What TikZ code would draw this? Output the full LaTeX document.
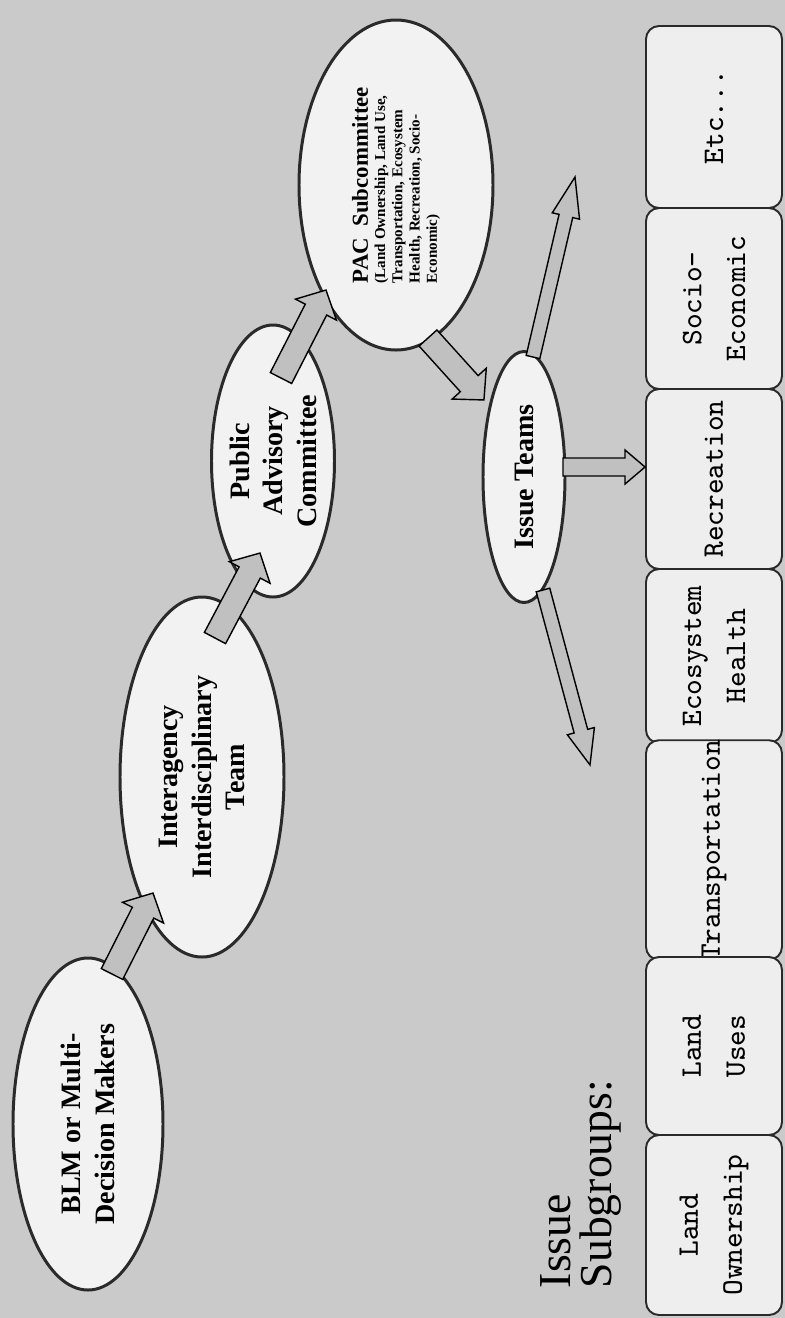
\documentclass[tikz,border=0pt]{standalone}
\usepackage{fontspec}
\setmainfont{Liberation Serif}
\usetikzlibrary{shapes.geometric, calc}
\definecolor{cpage}{HTML}{CACACA}
\definecolor{cbubble}{HTML}{F2F2F2}
\definecolor{cbox}{HTML}{EEEEEE}
\definecolor{carrow}{HTML}{C0C0C0}
\definecolor{cink}{HTML}{2A2A2A}
\tikzset{
  bubble/.style={ellipse, draw=cink, fill=cbubble, line width=0.85pt, rotate=90, inner sep=0pt,
    align=center, font=\fontsize{8}{9.5}\selectfont\bfseries},
  subbox/.style={draw=cink, fill=cbox, line width=0.55pt, rounded corners=0.13cm, rotate=90,
    inner sep=0pt, minimum height=1.36cm, align=center, font=\fontsize{8.5}{12.5}\selectfont\ttfamily},
  fatarrow/.style={draw=black, fill=carrow, line width=0.4pt, line join=miter},
  heading/.style={rotate=90, align=left, font=\rmfamily\fontsize{13}{11.5}\selectfont},
}
% block arrow: from, to, shaft half width, head half width, head length
\newcommand{\blockarrow}[5]{%
  \draw[fatarrow] let \p1=#1, \p2=#2,
      \n1={atan2(\y2-\y1,\x2-\x1)}, \n2={veclen(\x2-\x1,\y2-\y1)} in
    [shift={(\p1)}, rotate=\n1]
    (0,-#3) -- ({\n2*1pt-#5},-#3) -- ({\n2*1pt-#5},-#4) -- ({\n2*1pt},0)
    -- ({\n2*1pt-#5},#4) -- ({\n2*1pt-#5},#3) -- (0,#3) -- cycle;
}

\begin{document}
\begin{tikzpicture}
  \fill[cpage] (0,0) rectangle (7.85,-13.18);
  \useasboundingbox (0,0) rectangle (7.85,-13.18);
  % committees
  \node[bubble, minimum width=3.32cm, minimum height=1.50cm] (blm) at (0.88,-11.24) {BLM or Multi-\\Decision Makers};
  \node[bubble, minimum width=3.60cm, minimum height=1.64cm] (team) at (2.02,-7.77) {Interagency\\Interdisciplinary\\Team};
  \node[bubble, minimum width=2.72cm, minimum height=1.23cm] (pac) at (2.73,-4.61) {Public\\Advisory\\Committee};
  \node[bubble, minimum width=3.30cm, minimum height=1.94cm, align=left,
    font=\fontsize{4.3}{4.9}\selectfont\bfseries] (pacsub) at (3.96,-1.85)
    {{\fontsize{6.5}{7}\selectfont PAC\enspace Subcommittee}\\(Land Ownership, Land Use,\\Transportation, Ecosystem\\Health, Recreation, Socio-\\Economic)};
  \node[bubble, minimum width=2.51cm, minimum height=0.82cm] (issue) at (5.24,-4.77) {Issue Teams};
  % subgroups
  \node[heading] (subgroups) at (5.81,-11.84) {Issue\\Subgroups:};
  \foreach \name/\yc/\len/\txt in {etc/1.17/1.82/{Etc...}, soc/2.985/1.81/{Socio-\\Economic},
      rec/4.79/1.80/{Recreation}, eco/6.56/1.74/{Ecosystem\\Health}, trans/8.50/2.14/{Transportation},
      luse/10.46/1.78/{Land\\Uses}, lown/12.25/1.80/{Land\\Ownership}}
    \node[subbox, minimum width=\len cm] (\name) at (7.14,-\yc) {\txt};
  \coordinate (upend) at (5.75,-1.77);
  \coordinate (downend) at (5.90,-7.65);
  % arrows
  \blockarrow{($(blm)+(0.24,1.50)$)}{($(team)+(-0.49,-1.16)$)}{0.12cm}{0.23cm}{0.22cm}
  \blockarrow{($(team)+(0.13,1.39)$)}{($(pac)+(-0.13,-0.92)$)}{0.12cm}{0.23cm}{0.22cm}
  \blockarrow{($(pac)+(0.08,0.83)$)}{($(pacsub)+(-0.70,-1.05)$)}{0.12cm}{0.23cm}{0.22cm}
  \blockarrow{($(pacsub)+(0.32,-1.53)$)}{($(issue)+(-0.40,0.77)$)}{0.12cm}{0.23cm}{0.22cm}
  \blockarrow{($(issue)+(0.39,0.10)$)}{($(rec.north)+(0,0.12)$)}{0.09cm}{0.17cm}{0.20cm}
  \blockarrow{($(issue)+(0.09,1.20)$)}{(upend)}{0.07cm}{0.14cm}{0.40cm}
  \blockarrow{($(issue)+(0.19,-1.13)$)}{(downend)}{0.07cm}{0.14cm}{0.35cm}
\end{tikzpicture}
\end{document}
